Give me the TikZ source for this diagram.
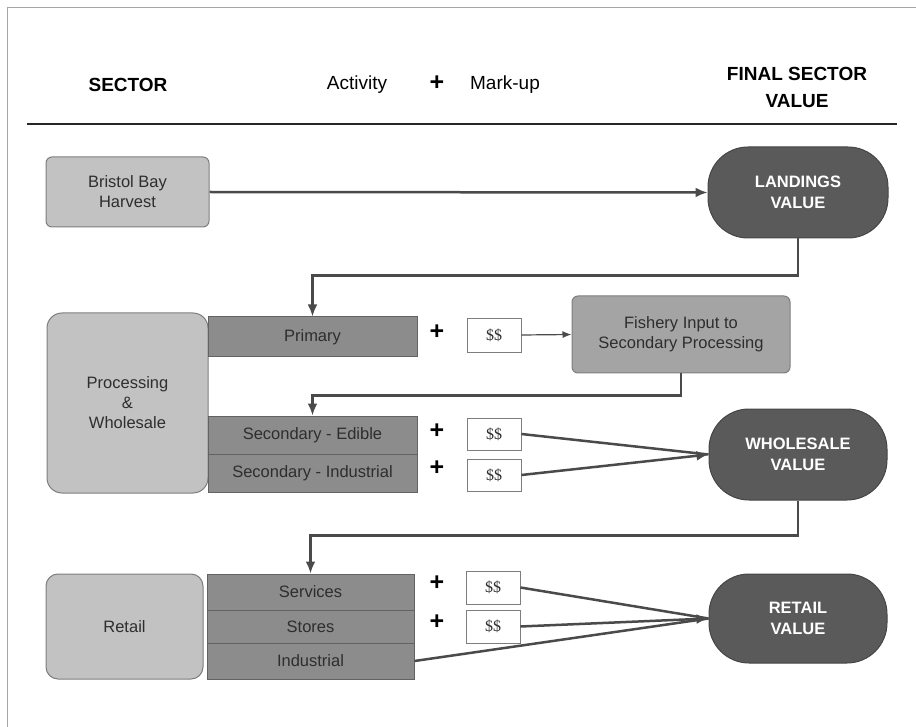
\documentclass[tikz,border=0pt]{standalone}
\usepackage{fontspec}
\setmainfont{Liberation Sans}
\newfontfamily\ssfont{Liberation Serif}
\usetikzlibrary{arrows.meta,calc}
\definecolor{sectorfill}{HTML}{C2C2C2}
\definecolor{sectordraw}{HTML}{7E7E7E}
\definecolor{actfill}{HTML}{8C8C8C}
\definecolor{actdraw}{HTML}{626262}
\definecolor{fishfill}{HTML}{A4A4A4}
\definecolor{valfill}{HTML}{5A5A5A}
\definecolor{valdraw}{HTML}{464646}
\definecolor{linec}{HTML}{4A4A4A}
\definecolor{txt}{HTML}{2E2E2E}
\tikzset{
  sectorbox/.style={draw=sectordraw, fill=sectorfill, line width=1pt, text=txt, align=center,
    font=\fontsize{16.5}{20}\selectfont, inner sep=0pt},
  actbox/.style={draw=actdraw, fill=actfill, line width=1pt, text=txt, align=center,
    font=\fontsize{16.5}{20}\selectfont, inner sep=0pt},
  valbox/.style={draw=valdraw, fill=valfill, line width=1pt, text=white, align=center,
    font=\bfseries\fontsize{16.5}{21}\selectfont, inner sep=0pt},
  ssbox/.style={draw=sectordraw, fill=white, line width=0.8pt, text=txt,
    font=\ssfont\fontsize{16}{18}\selectfont, inner sep=0pt, minimum width=54pt},
  plussign/.style={font=\bfseries\fontsize{25}{25}\selectfont, inner sep=0pt},
  conn/.style={draw=linec, line width=2.5pt},
  arr/.style={conn, -{Latex[length=12pt,width=10pt]}},
  hdr/.style={font=\fontsize{19}{22}\selectfont, inner sep=0pt},
}
\begin{document}
\begin{tikzpicture}[x=1pt,y=-1pt]
\useasboundingbox (0,0) rectangle (916,727);
% frame
\draw[gray!70, line width=0.8pt] (7,727) -- (7,7) -- (916,7);
% headers
\node[hdr, font=\bfseries\fontsize{19}{22}\selectfont] (hsector) at (128,85) {SECTOR};
\node[hdr] (hact) at (357,85) {Activity};
\node[plussign] (hplus) at (437,83) {+};
\node[hdr] (hmark) at (505,85) {Mark-up};
\node[hdr, font=\bfseries\fontsize{19}{27}\selectfont, align=center] (hfinal) at (797,87) {FINAL SECTOR\\VALUE};
\coordinate (rulel) at (27,124);
\coordinate (ruler) at (897,124);
\draw[line width=2.4pt, black!85] (rulel) -- (ruler);

% row 1
\node[sectorbox, rounded corners=6pt, minimum width=163pt, minimum height=70pt] (bbh) at (127.5,192) {Bristol Bay\\Harvest};
\node[valbox, rounded corners=40pt, minimum width=180pt, minimum height=91pt] (land) at (798,192.5) {LANDINGS\\VALUE};

% processing & wholesale
\node[sectorbox, rounded corners=15pt, minimum width=161pt, minimum height=180pt] (pw) at (127.5,403) {Processing\\\&\\Wholesale};
\node[actbox, minimum width=209pt, minimum height=40pt] (prim) at (312.5,337) {Primary};
\node[plussign] (p1) at (437,332) {+};
\node[ssbox, minimum height=34pt] (ss1) at (494,335) {\$\$};
\node[sectorbox, fill=fishfill, rounded corners=6pt, minimum width=218pt, minimum height=77pt] (fish) at (681,334.5) {Fishery Input to\\Secondary Processing};
\node[actbox, minimum width=209pt, minimum height=38pt] (sece) at (312.5,435) {Secondary - Edible};
\node[actbox, minimum width=209pt, minimum height=38pt] (seci) at (312.5,473) {Secondary - Industrial};
\node[plussign] (p2) at (437,431) {+};
\node[plussign] (p3) at (437,468) {+};
\node[ssbox, minimum height=32pt] (ss2) at (494,434) {\$\$};
\node[ssbox, minimum height=32pt] (ss3) at (494,475) {\$\$};
\node[valbox, rounded corners=40pt, minimum width=178pt, minimum height=91pt] (whole) at (798,454.5) {WHOLESALE\\VALUE};

% retail
\node[sectorbox, rounded corners=12pt, minimum width=157pt, minimum height=105pt] (ret) at (124.5,626.5) {Retail};
\node[actbox, minimum width=207pt, minimum height=36pt] (serv) at (310.5,592) {Services};
\node[actbox, minimum width=207pt, minimum height=33pt] (stor) at (310.5,626.5) {Stores};
\node[actbox, minimum width=207pt, minimum height=36pt] (indu) at (310.5,661) {Industrial};
\node[plussign] (p4) at (437,583) {+};
\node[plussign] (p5) at (437,622) {+};
\node[ssbox, minimum height=33pt] (ss4) at (493,587.5) {\$\$};
\node[ssbox, minimum height=33pt] (ss5) at (493,626.5) {\$\$};
\node[valbox, rounded corners=40pt, minimum width=178pt, minimum height=89pt] (retv) at (798,618.5) {RETAIL\\VALUE};

% connectors
\draw[arr] (bbh.east) -- (land.west);
\draw[arr] (land.south) |- ($(prim.north)+(0,-41)$) -- (prim.north);
\draw[draw=linec, line width=1.2pt, -{Latex[length=9pt,width=7pt]}] (ss1.east) -- (fish.west);
\draw[arr] (fish.south) |- ($(sece.north)+(0,-20)$) -- (sece.north);
\draw[conn] (ss2.east) -- (whole.west);
\draw[arr] (ss3.east) -- (whole.west);
\draw[arr] (whole.south) |- ($(serv.north)+(0,-38)$) -- (serv.north);
\draw[conn] (ss4.east) -- (retv.west);
\draw[conn] (indu.east) -- (retv.west);
\draw[arr] (ss5.east) -- (retv.west);
\end{tikzpicture}
\end{document}
